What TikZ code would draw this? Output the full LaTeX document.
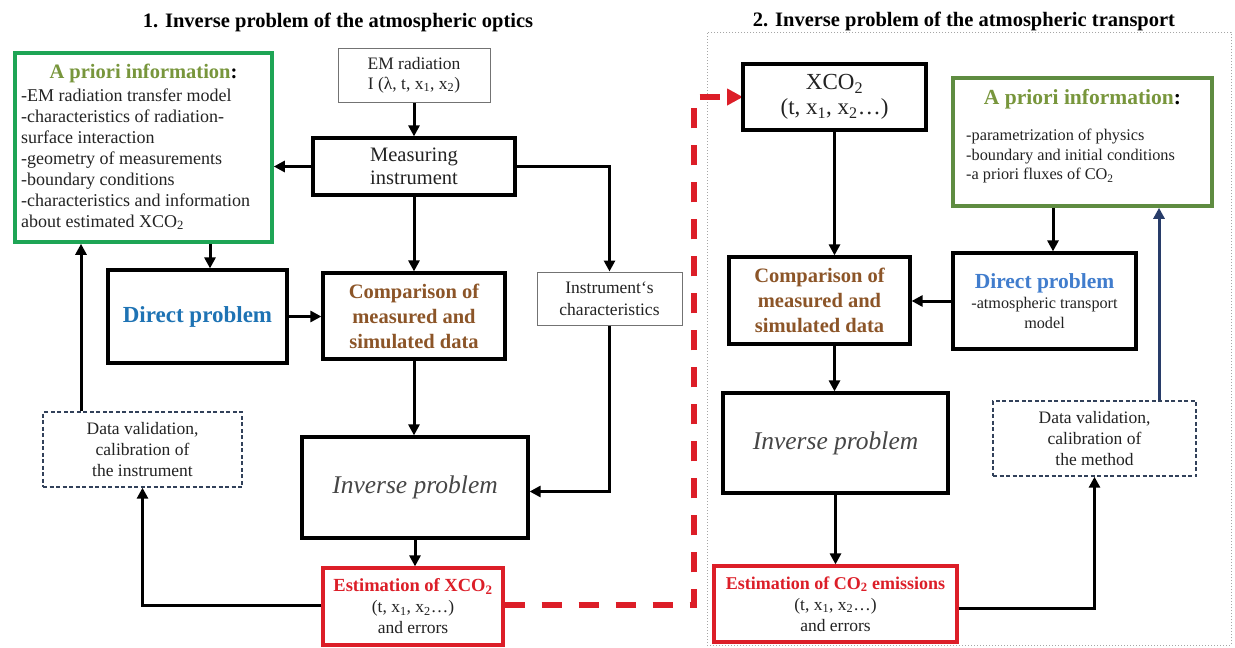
\documentclass[tikz,border=0pt]{standalone}
\usepackage{fontspec}
\setmainfont{Liberation Serif}
\usetikzlibrary{arrows.meta}
\definecolor{greenL}{RGB}{30,165,85}
\definecolor{greenR}{RGB}{95,140,65}
\definecolor{olivec}{RGB}{120,150,60}
\definecolor{blueL}{RGB}{30,115,180}
\definecolor{blueR}{RGB}{65,125,205}
\definecolor{brownc}{RGB}{140,85,40}
\definecolor{redc}{RGB}{220,30,40}
\definecolor{navyc}{RGB}{40,60,105}
\definecolor{dvc}{RGB}{50,65,90}
\definecolor{txtc}{RGB}{35,35,35}
\definecolor{invc}{RGB}{70,70,70}
\newcommand{\fs}[2]{\fontsize{#1}{#2}\selectfont}
\tikzset{
  x=1pt, y=-1pt,
  thickbox/.style={draw=black, line width=3.2pt, inner sep=0pt, align=center, text=txtc},
  thinbox/.style={draw=black!55, line width=1pt, inner sep=0pt, align=center, text=txtc},
  greenbox/.style={draw=greenL, line width=3.6pt, inner sep=0pt},
  greenboxR/.style={draw=greenR, line width=3.6pt, inner sep=0pt},
  redbox/.style={draw=redc, line width=3.2pt, inner sep=0pt, align=center, text=txtc},
  dvbox/.style={draw=dvc, line width=1.4pt, dash pattern=on 4pt off 2.5pt, inner sep=0pt, align=center, text=txtc},
  arr/.style={draw=black, line width=3pt, -{Triangle[length=11pt,width=11pt]}},
  title/.style={font=\fs{20.5}{24}\bfseries, text=black},
}
\begin{document}
\begin{tikzpicture}
\useasboundingbox (0,0) rectangle (1235,648);
\fill[white] (0,0) rectangle (1235,648);

% titles
\node[title] (t1) at (338,22) {1. Inverse problem of the atmospheric optics};
\node[title] (t2) at (964,21) {2. Inverse problem of the atmospheric transport};

% dotted frame of part 2
\node[draw=gray!70, line width=1pt, dash pattern=on 1pt off 2pt, minimum width=524pt, minimum height=613pt, inner sep=0pt] (frame2) at (969,338.5) {};

% ---------- part 1 ----------
\node[greenbox, minimum width=257pt, minimum height=189pt] (aprL) at (143.5,147.5) {};
\node[font=\fs{20.5}{22}\bfseries, text=olivec, inner sep=0pt] (aprLt) at (143.5,73) {A priori information\textcolor{black}{:}};
\node[font=\fs{18}{21}, align=left, anchor=west, inner sep=0pt, text=txtc] (aprLb) at (21,159) {-EM radiation transfer model\\-characteristics of radiation-\\surface interaction\\-geometry of measurements\\-boundary conditions\\-characteristics and information\\about estimated XCO\textsubscript{2}};

\node[thinbox, minimum width=152pt, minimum height=54pt, font=\fs{17.5}{20}] (em) at (414,75) {EM radiation\\I (λ, t, x\textsubscript{1}, x\textsubscript{2})};
\node[thickbox, minimum width=202pt, minimum height=57pt, font=\fs{20.5}{23}] (meas) at (414,166.5) {Measuring\\instrument};
\node[thickbox, minimum width=179pt, minimum height=93pt, font=\fs{23}{26}\bfseries, text=blueL] (dirL) at (197.5,316.5) {Direct problem};
\node[thickbox, minimum width=182pt, minimum height=86pt, font=\fs{20.5}{25}\bfseries, text=brownc] (compL) at (414,316) {Comparison of\\measured and\\simulated data};
\node[thinbox, minimum width=145pt, minimum height=53pt, font=\fs{17.5}{22}] (instr) at (609.5,298.5) {Instrument`s\\characteristics};
\node[dvbox, minimum width=199pt, minimum height=75pt, font=\fs{17.5}{21}] (dvL) at (142.5,449.5) {Data validation,\\calibration of\\the instrument};
\node[thickbox, minimum width=226pt, minimum height=101pt, font=\fs{25.5}{28}\itshape, text=invc] (invL) at (415,487.5) {Inverse problem};
\node[redbox, minimum width=180pt, minimum height=77pt, font=\fs{17.5}{21}] (estL) at (413,606.5) {\textbf{\textcolor{redc}{\fs{18.5}{21}Estimation of XCO\textsubscript{2}}}\\(t, x\textsubscript{1}, x\textsubscript{2}…)\\and errors};

% connectors part 1
\draw[arr] (em.south) -- (meas.north);
\draw[arr] (meas.west) -- (meas.west -| aprL.east);
\draw[arr] (meas.east) -| (instr.north);
\draw[arr] (meas.south) -- (compL.north);
\draw[arr] ([xshift=12.5pt]dirL.north |- aprL.south) -- ([xshift=12.5pt]dirL.north);
\draw[arr] (dirL.east) -- (dirL.east -| compL.west);
\draw[arr] (compL.south) -- (compL.south |- invL.north);
\draw[arr] (instr.south) |- ([yshift=-4pt]invL.east);
\draw[arr] (invL.south) -- (invL.south |- estL.north);
\draw[arr] ([yshift=1.5pt]estL.west) -| (dvL.south);
\draw[arr] ([xshift=-61.5pt]dvL.north) -- ([xshift=-61.5pt]dvL.north |- aprL.south);

% red dashed link
\coordinate (redturn) at (694,97);
\draw[draw=redc, line width=5.5pt, dash pattern=on 20pt off 17pt, -{Triangle[length=16pt,width=16pt,fill=redc]}] ([yshift=1.5pt]estL.east) -| (redturn) -- (redturn -| 743,0);

% ---------- part 2 ----------
\node[thickbox, minimum width=183pt, minimum height=66pt, font=\fs{23}{25}] (xco2) at (834.5,97) {XCO\textsubscript{2}\\(t, x\textsubscript{1}, x\textsubscript{2}…)};
\node[greenboxR, minimum width=259pt, minimum height=128pt] (aprR) at (1082.5,142) {};
\node[font=\fs{21.5}{24}\bfseries, text=olivec, inner sep=0pt] (aprRt) at (1082.5,99) {A priori information\textcolor{black}{:}};
\node[font=\fs{16.3}{19.5}, align=left, anchor=west, inner sep=0pt, text=txtc] (aprRb) at (966,156) {-parametrization of physics\\-boundary and initial conditions\\-a priori fluxes of CO\textsubscript{2}};
\node[thickbox, minimum width=181pt, minimum height=87pt, font=\fs{20.5}{25}\bfseries, text=brownc] (compR) at (819.5,300.5) {Comparison of\\measured and\\simulated data};
\node[thickbox, minimum width=183pt, minimum height=96pt, font=\fs{16.2}{20}] (dirR) at (1044.5,301) {{\fs{21.5}{24}\bfseries\textcolor{blueR}{Direct problem}}\\-atmospheric transport\\model};
\node[thickbox, minimum width=225pt, minimum height=100pt, font=\fs{25.5}{28}\itshape, text=invc] (invR) at (835.5,443) {Inverse problem};
\node[dvbox, minimum width=203pt, minimum height=75pt, font=\fs{17.5}{21}] (dvR) at (1094.5,438.5) {Data validation,\\calibration of\\the method};
\node[redbox, minimum width=243pt, minimum height=76pt, font=\fs{17.5}{21}] (estR) at (835.5,604) {\textbf{\textcolor{redc}{\fs{18}{21}Estimation of CO\textsubscript{2} emissions}}\\(t, x\textsubscript{1}, x\textsubscript{2}…)\\and errors};

% connectors part 2
\draw[arr] (xco2.south) -- (xco2.south |- compR.north);
\draw[arr] ([xshift=8.5pt]dirR.north |- aprR.south) -- ([xshift=8.5pt]dirR.north);
\draw[arr] (dirR.west) -- (dirR.west -| compR.east);
\draw[arr] (xco2.south |- compR.south) -- (xco2.south |- invR.north);
\draw[arr] (invR.south) -- (invR.south |- estR.north);
\draw[arr] ([yshift=-4pt]estR.east) -| (dvR.south);
\draw[arr, draw=navyc] ([xshift=64.5pt]dvR.north) -- ([xshift=64.5pt]dvR.north |- aprR.south);
\end{tikzpicture}
\end{document}
